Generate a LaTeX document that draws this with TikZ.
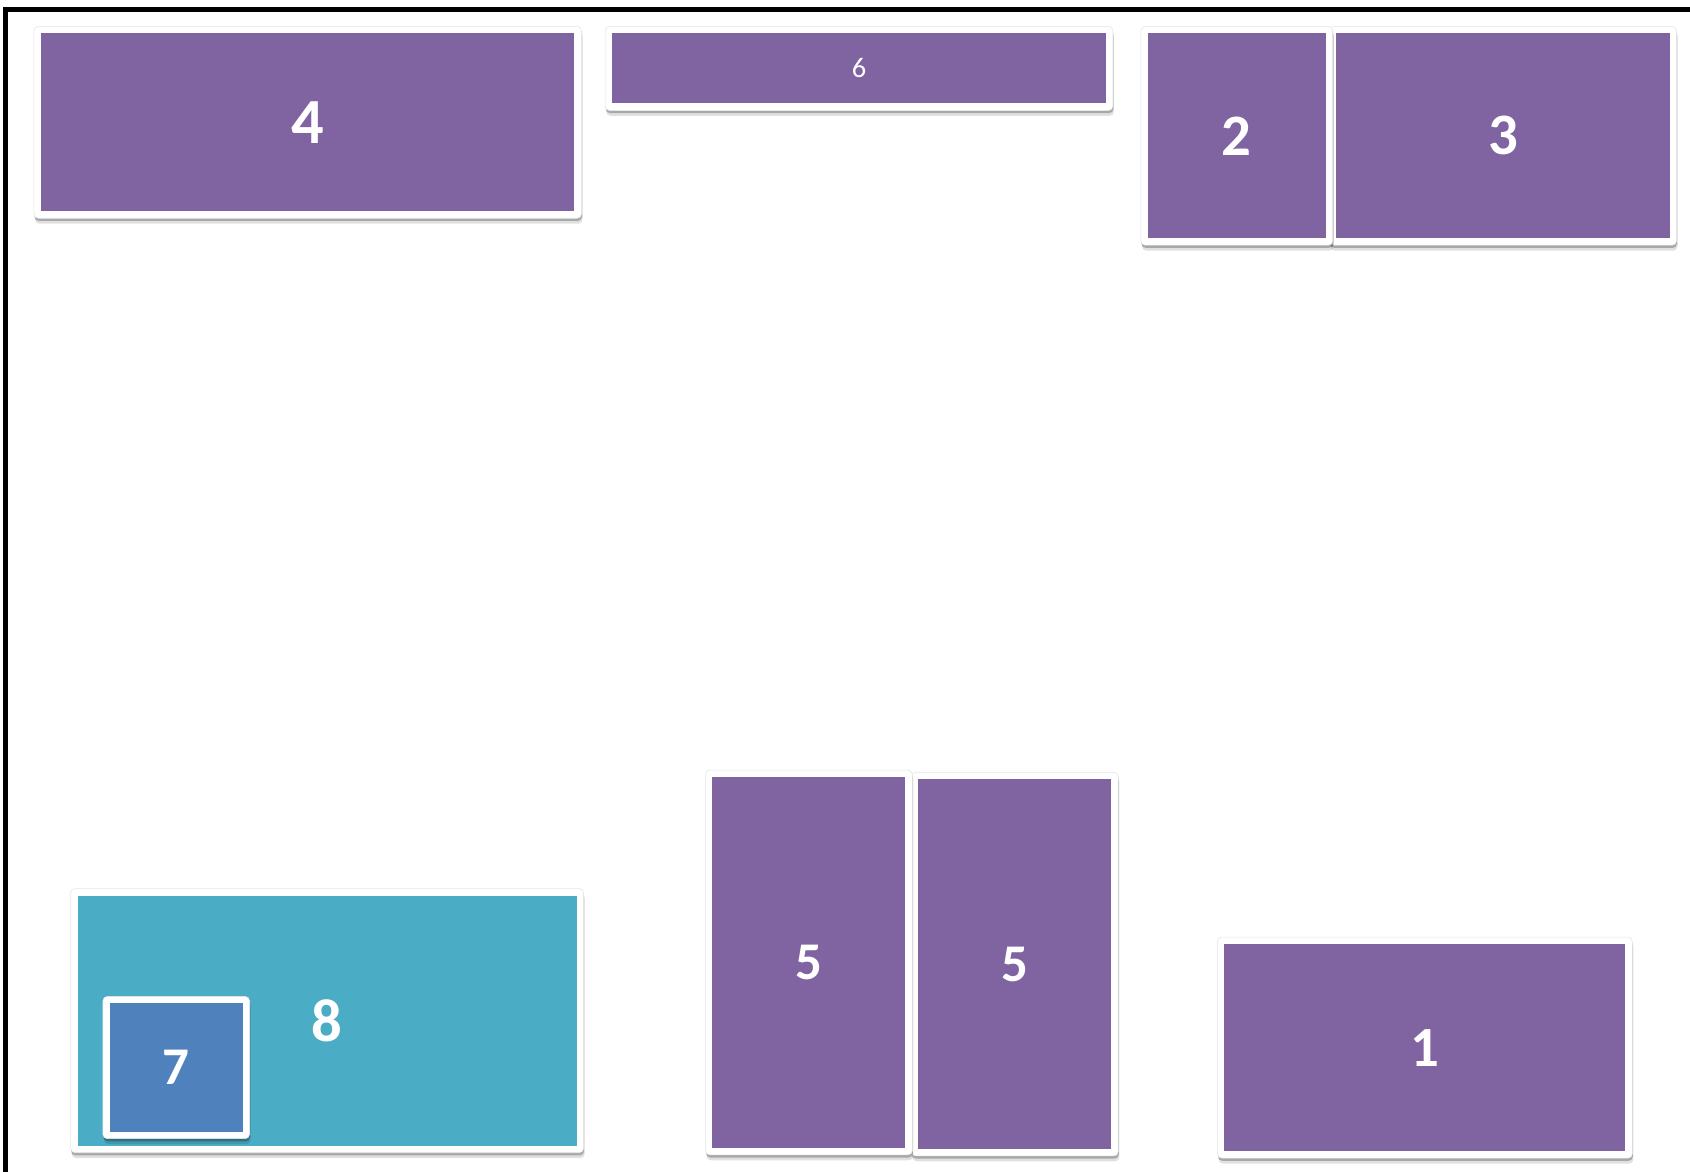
\documentclass[tikz,border=0pt]{standalone}
\usepackage{fontspec}
\setmainfont{Carlito}[Numbers=Lining]
\usetikzlibrary{shadows}
\definecolor{tilepurple}{HTML}{8064A2}
\definecolor{tileteal}{HTML}{4BACC6}
\definecolor{tileblue}{HTML}{4F81BD}

\tikzset{
  tile/.style n args={3}{fill=white, draw=black!10, line width=0.3pt, rounded corners=0.08cm,
    minimum width=#1*0.02cm, minimum height=#2*0.02cm, inner sep=0pt, outer sep=0pt,
    text=white,
    path picture={\fill[#3, sharp corners]
      ([xshift=0.13cm,yshift=0.13cm]path picture bounding box.south west) rectangle
      ([xshift=-0.13cm,yshift=-0.13cm]path picture bounding box.north east);},
    drop shadow={shadow xshift=0.02cm, shadow yshift=-0.1cm, opacity=0.12, fill=black},
    drop shadow={shadow xshift=0.01cm, shadow yshift=-0.05cm, opacity=0.25, fill=black}},
}

\begin{document}
\begin{tikzpicture}[x=0.02cm, y=-0.02cm]

\useasboundingbox (0,0) rectangle (1568,1087);

% Frame (only left and top edge are inside the page)
\draw[black, line width=0.09cm] (5,1095) -- (5,9) -- (1575,9);

% Top row
\node[tile={508}{178}{tilepurple}, font=\fontsize{34}{34}\selectfont\bfseries]
  (four) at (285.5,113.5) {4};
\node[tile={471}{78}{tilepurple}, font=\fontsize{15}{15}\selectfont]
  (six) at (797,63.5) {6};
\node[tile={322}{203}{tilepurple}, font=\fontsize{31}{31}\selectfont\bfseries]
  (three) at (1394.5,126) {3};
\node[tile={178}{203}{tilepurple}, font=\fontsize{31}{31}\selectfont\bfseries]
  (two) at (1147.5,126) {2};

% Bottom left: 8 with 7 inside
\node[tile={476}{245}{tileteal}, font=\fontsize{32}{32}\selectfont\bfseries]
  (eight) at (303.5,947) {8};
\node[tile={136}{132}{tileblue}, font=\fontsize{28}{28}\selectfont\bfseries]
  (seven) at (163.5,990.5) {7};

% Bottom middle: the two 5s
\node[tile={192}{356}{tilepurple}, font=\fontsize{28}{28}\selectfont\bfseries]
  (fiveb) at (941.5,894.5) {5};
\node[tile={192}{357}{tilepurple}, font=\fontsize{28}{28}\selectfont\bfseries]
  (fivea) at (750.5,893) {5};

% Bottom right
\node[tile={385}{205}{tilepurple}, font=\fontsize{30}{30}\selectfont\bfseries]
  (one) at (1322,972) {1};

\end{tikzpicture}
\end{document}
